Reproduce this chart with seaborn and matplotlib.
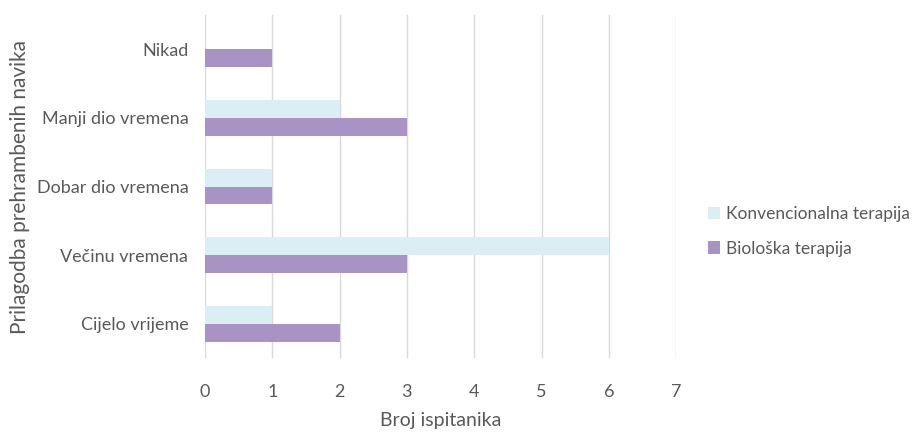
import pandas as pd
import matplotlib
matplotlib.use("Agg")
import matplotlib.pyplot as plt
import seaborn as sns
from matplotlib.patches import Patch

# podaci
kategorije = ["Nikad", "Manji dio vremena", "Dobar dio vremena", "Večinu vremena", "Cijelo vrijeme"]
konvencionalna = [0, 2, 1, 6, 1]
bioloska = [1, 3, 1, 3, 2]
serije = ["Konvencionalna terapija", "Biološka terapija"]
boje = ["#DAEEF3", "#A893C4"]

df = pd.DataFrame({
    "kategorija": kategorije * 2,
    "broj": konvencionalna + bioloska,
    "terapija": [serije[0]] * len(kategorije) + [serije[1]] * len(kategorije),
})

sns.set_style("white")
plt.rcParams["font.family"] = ["Lato", "DejaVu Sans"]
siva = "#595959"

fig = plt.figure(figsize=(9.15, 4.41), dpi=100)
ax = fig.add_axes([0.224, 0.188, 0.515, 0.778])

sns.barplot(data=df, y="kategorija", x="broj", hue="terapija", order=kategorije,
            hue_order=serije, palette=boje, orient="h", width=0.52, ax=ax,
            saturation=1, legend=False, linewidth=0, zorder=3)

ax.set_xlim(0, 7)
ax.set_xticks(range(0, 8))
ax.set_ylim(4.5, -0.5)
ax.grid(axis="x", color="#D9D9D9", linewidth=1, zorder=0)
ax.set_axisbelow(True)
for s in ax.spines.values():
    s.set_visible(False)
ax.tick_params(axis="x", length=0, pad=19, labelsize=13, labelcolor=siva)
ax.tick_params(axis="y", length=0, pad=12, labelsize=13, labelcolor=siva)
ax.set_xlabel("Broj ispitanika", fontsize=14, color=siva, labelpad=8)
ax.set_ylabel("Prilagodba prehrambenih navika", fontsize=15, color=siva)
ax.yaxis.set_label_coords(-0.372, 0.5)

handles = [Patch(facecolor=c, edgecolor="none") for c in boje]
fig.legend(handles, serije, loc="center left", bbox_to_anchor=(0.757, 0.475),
           frameon=False, fontsize=12.5, labelcolor=siva, handlelength=0.7,
           handleheight=0.7, handletextpad=0.3, labelspacing=1.05)

fig.savefig("out.png", dpi=100)
